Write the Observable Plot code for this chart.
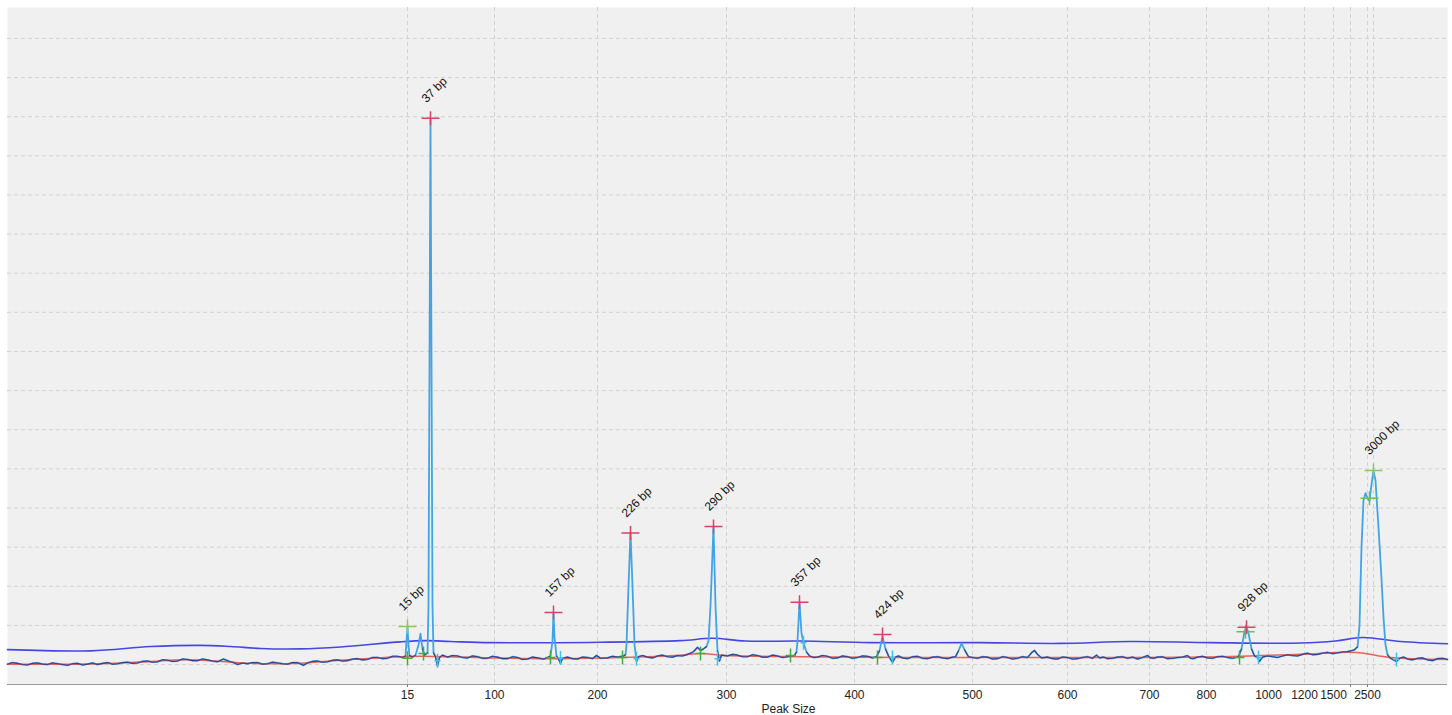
<!DOCTYPE html>
<html><head><meta charset="utf-8">
<script src="https://cdn.jsdelivr.net/npm/d3@7"></script>
<script src="https://cdn.jsdelivr.net/npm/@observablehq/plot@0.6"></script>
<style>body{margin:0;background:#fff;}</style>
</head><body><div id="chart"></div>
<script>
// x: migration (sample index), y: fluorescence units
const tickTime   = [400, 487, 590, 719, 847, 965, 1060, 1142, 1199, 1261, 1297, 1326, 1343, 1360, 1366];
const tickLabels = ["15","100","200","300","400","500","600","700","800","1000","1200","1500","","2500",""];
const minorTicks = [400, 1343, 1360];
const yGrid = [0,10,20,30,40,50,60,70,80,90,100,110,120,130,140,150,160];

const peakLabels = ["15 bp","37 bp","157 bp","226 bp","290 bp","357 bp","424 bp","928 bp","3000 bp"];
const peakTime   = [400, 423, 546, 623, 706, 792, 875, 1239, 1366];
const peakFU     = [9.7, 139.6, 13.3, 33.6, 35.3, 15.9, 7.7, 9.5, 49.6];
const peakKind   = ["marker","sample","sample","sample","sample","sample","sample","sample","marker"];

const extraMarkTime = [1238, 1362];
const extraMarkFU   = [8.4, 42.5];

const startTime = [400, 416, 543, 615, 693, 783, 870, 1232];
const startFU   = [1.6, 2.8, 1.8, 1.8, 2.8, 2.3, 1.8, 1.8];
const endTime   = [430, 553, 629, 710, 796, 885, 1251, 1389];
const endFU     = [1.0, 1.7, 1.5, 1.5, 5.6, 1.8, 1.8, 1.3];

const thresholdTime = [0,83,143,193,223,253,293,333,393,418,443,483,593,673,705,738,793,863,973,1053,1123,1203,1293,1328,1355,1393,1440];
const thresholdFU   = [3.8,3.5,4.6,4.9,4.6,4.1,4.0,4.5,5.8,6.1,5.9,5.6,5.7,6.1,6.7,6.0,6.0,5.6,5.6,5.4,5.9,5.6,5.5,6.0,6.9,5.9,5.3];

const baselineTime = [0,93,143,178,208,243,293,326,393,413,483,553,613,673,693,713,753,793,893,993,1093,1193,1293,1348,1383,1440];
const baselineFU   = [0.1,0.2,0.8,1.2,0.9,0.3,0.35,1.0,2.0,2.1,1.7,1.5,1.8,2.4,2.8,2.4,2.1,2.0,1.8,1.8,1.8,1.9,2.6,3.1,1.8,1.3];

const signal = [
[0,0.1],[5,0.5],[10,0.3],[15,0.0],[20,-0.1],[25,0.3],[30,0.4],[35,0.1],[40,0.0],[45,0.4],[50,0.2],[55,0.0],[60,-0.2],[65,0.2],[70,0.3],[75,-0.1],[80,0.1],[85,0.4],[90,0.0],[95,0.3],[100,0.5],[105,0.1],[110,0.2],[115,0.5],[120,0.6],[125,0.3],[130,0.4],[135,0.8],[140,0.9],[145,0.6],[150,0.7],[155,1.2],[160,1.1],[165,0.8],[170,0.9],[175,1.4],[180,1.3],[185,1.0],[190,1.0],[195,1.4],[200,1.2],[205,0.9],[210,0.7],[216,1.4],[222,0.8],[226,0.5],[230,0.0],[235,0.4],[240,0.2],[245,0.5],[250,0.5],[255,0.1],[260,0.2],[265,0.6],[270,0.4],[275,0.2],[280,0.1],[285,0.5],[290,0.5],[296,-0.2],[300,0.4],[305,0.8],[310,0.9],[315,0.6],[320,0.7],[325,1.1],[330,1.2],[335,0.9],[340,1.0],[345,1.4],[350,1.5],[355,1.2],[360,1.3],[365,1.8],[370,1.8],[375,1.5],[380,1.6],[385,2.1],[390,2.1],
[395,1.8],[398,2.2],[399,6],[400,9.5],[401,5],[402,2.3],[405,1.9],[408,2.4],[411,5],[413,7.9],[415,4],[417,2.4],[420,3],[421,15],[423,139.6],[425,15],[426,3],[428,2.0],[430,-0.4],[432,1.8],[435,2.4],[440,1.9],[445,2.3],[450,2.2],[455,1.8],[460,1.7],[465,2.2],[470,2.0],[475,1.6],[480,1.6],[485,2.1],[490,1.9],[495,1.5],[500,1.5],[505,2.0],[510,1.8],[515,1.3],[520,1.4],[525,1.9],[530,1.7],[536,1.4],[540,1.8],[543,2.2],[545,6],[546,13.3],[547,7],[549,2.2],[551,1.4],[553,0.3],[555,1.6],[560,1.9],[565,1.5],[570,1.4],[575,1.9],[580,1.8],[585,1.5],[589,2.3],[593,1.6],[600,1.7],[605,2.1],[610,1.9],[616,2.2],[618,2.5],[619,5],[621,20],[623,33.8],[625,20],[627,5],[629,0.8],[631,2.0],[635,2.3],[640,1.9],[645,1.7],[650,2.2],[655,2.4],[660,2.0],[665,1.9],[670,2.3],[675,2.2],[680,2.6],[683,2.9],[686,3.3],[690,4.4],[693,3.6],[696,4.0],[699,4.6],[701,6],[703,15],[706,35.3],[708,15],[710,3.5],[712,0.9],[714,2.4],[720,2.2],[725,2.6],[730,2.4],[735,2.0],[740,2.0],[745,2.5],[750,2.3],[755,1.9],[760,1.9],[765,2.4],[770,2.2],[775,1.8],[780,2.0],[787,2.3],[789,3.2],[790,6],[792,15.9],[794,8],[796,5.5],[799,3.2],[802,2.2],[806,1.8],[810,1.9],[815,2.3],[820,2.1],[825,1.6],[830,1.7],[835,2.2],[840,2.0],[845,1.6],[850,1.8],[855,2.2],[860,2.1],[865,1.7],[869,2.0],[872,3.5],[875,7.2],[878,4],[881,2.2],[885,0.6],[888,1.9],[891,2.2],[895,1.7],[900,1.5],[905,2.0],[910,2.1],[915,1.6],[920,1.5],[925,1.9],[930,2.0],[935,1.7],[940,1.5],[945,1.9],[948,2.0],[951,3.5],[954,5.4],[957,3.8],[961,2.0],[965,1.8],[970,1.6],[975,2.0],[980,1.9],[985,1.4],[990,1.5],[995,2.0],[1000,1.8],[1005,1.4],[1010,1.6],[1015,2.0],[1020,1.8],[1024,3.0],[1027,3.6],[1030,2.6],[1034,1.7],[1040,1.9],[1045,1.5],[1050,1.4],[1055,1.9],[1060,1.8],[1065,1.4],[1070,1.5],[1075,1.8],[1080,2.0],[1085,1.6],[1089,2.4],[1092,1.7],[1096,1.9],[1100,1.5],[1105,1.6],[1110,1.9],[1115,2.0],[1120,1.6],[1125,1.9],[1130,1.4],[1135,1.8],[1140,2.3],[1143,1.7],[1146,1.6],[1150,1.9],[1155,2.0],[1160,1.5],[1165,1.6],[1170,1.8],[1175,1.9],[1180,2.3],[1183,1.6],[1186,1.5],[1190,1.9],[1195,2.1],[1200,1.7],[1205,1.6],[1210,2.0],[1215,2.1],[1220,1.8],[1225,1.6],[1231,2.0],[1234,4],[1237,8.5],[1239,9.6],[1241,8],[1244,4],[1247,2.2],[1250,1.8],[1252,0.8],[1255,1.9],[1260,2.2],[1265,2.0],[1270,1.8],[1275,2.2],[1280,2.5],[1285,2.3],[1290,2.2],[1295,2.6],[1300,2.9],[1305,2.5],[1310,2.6],[1315,2.9],[1320,3.1],[1325,2.8],[1330,3.0],[1335,3.2],[1340,3.3],[1345,3.6],[1347,3.8],[1350,4.5],[1352,10],[1354,30],[1356,42],[1358,43.8],[1360,42.5],[1362,41.8],[1364,46],[1366,49.6],[1368,47],[1371,35],[1374,22],[1376,12],[1378,5],[1380,2.5],[1383,1.6],[1389,0.8],[1392,1.6],[1396,1.9],[1400,1.4],[1405,1.2],[1410,1.6],[1415,1.7],[1420,1.2],[1425,1.0],[1430,1.5],[1435,1.6],[1440,1.3]
];

const yDomain = [-5.1, 167.9];
const labelMap = new Map(tickTime.map((t, i) => [t, tickLabels[i]]));
const peaks = peakLabels.map((label, i) => ({label, t: peakTime[i], fu: peakFU[i], kind: peakKind[i]}));
const extraMarks = extraMarkTime.map((t, i) => ({t, fu: extraMarkFU[i]}));
const starts = startTime.map((t, i) => ({t, fu: startFU[i]}));
const ends = endTime.map((t, i) => ({t, fu: endFU[i]}));
const threshold = thresholdTime.map((t, i) => ({t, fu: thresholdFU[i]}));
const baseline = baselineTime.map((t, i) => ({t, fu: baselineFU[i]}));

const plus = (hx, hy) => ({draw(ctx) { ctx.moveTo(-hx, 0); ctx.lineTo(hx, 0); ctx.moveTo(0, -hy); ctx.lineTo(0, hy); }});

const chart = Plot.plot({
  width: 1452, height: 715,
  marginLeft: 7, marginRight: 5, marginTop: 7, marginBottom: 31,
  style: {fontFamily: "'Liberation Sans', Arial, sans-serif", fontSize: "12px", color: "#222", background: "#fff"},
  x: {domain: [0, 1440], axis: null},
  y: {domain: yDomain, axis: null},
  marks: [
    Plot.frame({fill: "#f0f0f0", stroke: null}),
    Plot.gridX({ticks: tickTime, stroke: "#d2d2d2", strokeOpacity: 1, strokeDasharray: "4,3"}),
    Plot.gridY({ticks: yGrid, stroke: "#d2d2d2", strokeOpacity: 1, strokeDasharray: "4,3"}),
    Plot.line(threshold, {x: "t", y: "fu", stroke: "#4646e6", strokeWidth: 1.6, curve: "catmull-rom"}),
    Plot.line(signal, {x: d => d[0], y: d => d[1], stroke: "#42a4e4", strokeWidth: 1.8}),
    Plot.line(baseline, {x: "t", y: "fu", stroke: "#e8625c", strokeWidth: 1.5, curve: "catmull-rom"}),
    Plot.line(signal, {x: d => d[0], y: d => d[1] < 4.8 ? d[1] : NaN, stroke: "#35428e", strokeWidth: 1.1}),
    Plot.dot(starts, {x: "t", y: "fu", symbol: plus(5, 7), r: 5, fill: "none", stroke: "#3cae3c", strokeWidth: 1.5}),
    Plot.dot(ends, {x: "t", y: "fu", symbol: plus(3, 7), r: 5, fill: "none", stroke: "#3cc4ec", strokeWidth: 1.5}),
    Plot.dot(extraMarks, {x: "t", y: "fu", symbol: plus(9, 7), r: 5, fill: "none", stroke: "#6cbf4a", strokeWidth: 1.5}),
    Plot.dot(peaks, {x: "t", y: "fu", symbol: plus(9, 7), r: 5, fill: "none",
      stroke: d => d.kind === "sample" ? "#d8406a" : "#8cc860", strokeWidth: 1.5}),
    Plot.text(peaks, {x: "t", y: "fu", text: "label", rotate: -45, textAnchor: "start", lineAnchor: "bottom",
      dx: -4, dy: -15, fontSize: 12, fill: "#111"}),
    Plot.ruleY([yDomain[0]], {stroke: "#9a9a9a", strokeWidth: 1.2}),
    Plot.axisX({ticks: tickTime, tickFormat: d => labelMap.get(d), tickSize: 0, tickPadding: 6, label: null, fontSize: 12, fill: "#222"}),
    Plot.axisX({ticks: minorTicks, tickFormat: () => "", tickSize: 3, label: null, stroke: "#777"}),
    Plot.text(["Peak Size"], {frameAnchor: "bottom", dx: 61, dy: 28, fontSize: 12, fill: "#222"})
  ]
});
document.getElementById("chart").appendChild(chart);
</script>
</body></html>
